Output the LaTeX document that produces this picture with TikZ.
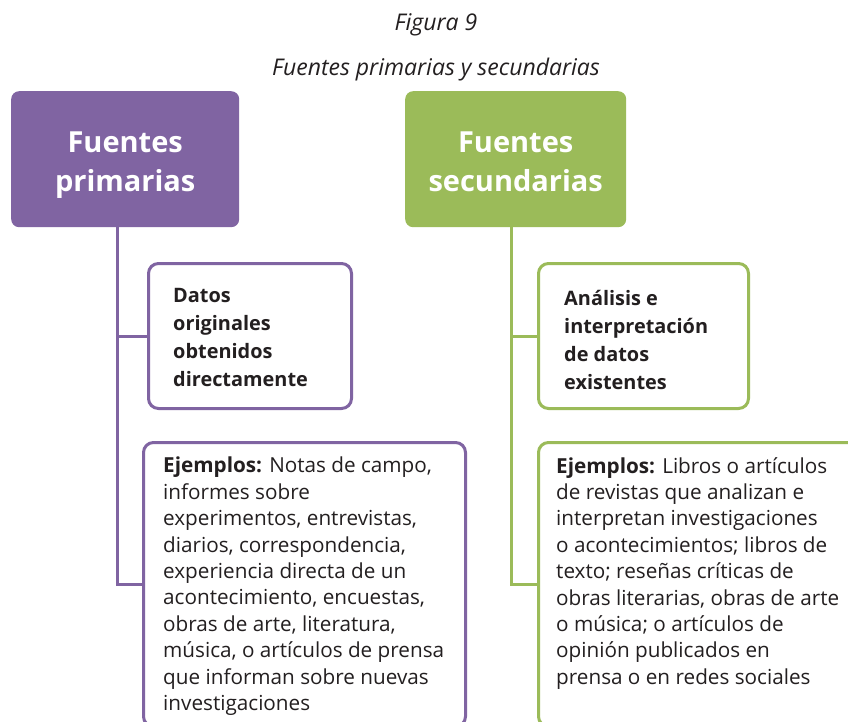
\documentclass[tikz,border=0pt]{standalone}
\usepackage{fontspec}
\setmainfont{Open Sans}
\usetikzlibrary{calc}
\definecolor{purp}{HTML}{8064A2}
\definecolor{grn}{HTML}{9BBB59}
\definecolor{ink}{HTML}{231F20}
\begin{document}
\begin{tikzpicture}[x=1pt,y=-1pt,
  head/.style={draw=none,fill=#1,rounded corners=8pt,anchor=north west,inner sep=0pt},
  obox/.style={draw=#1,line width=3pt,rounded corners=10pt,fill=white,anchor=north west,inner sep=0pt},
  link/.style={draw=#1,line width=3pt},
  headtxt/.style={text=white,align=center,font=\fontsize{29}{39}\selectfont\bfseries},
  btxt/.style={text=ink,align=left,anchor=north west,inner sep=0pt,font=\fontsize{19.9}{28}\selectfont\bfseries},
  ltxt/.style={text=ink,align=left,anchor=north west,inner sep=0pt,font=\fontsize{20.7}{26.4}\selectfont},
  ttl/.style={text=ink,font=\fontsize{23}{28}\selectfont\itshape}]
\useasboundingbox (0,0) rectangle (848,722);
\fill[white] (0,0) rectangle (848,722);
% titles
\node[ttl] (t1) at (436,25) {Figura 9};
\node[ttl] (t2) at (436,70) {Fuentes primarias y secundarias};
% header boxes
\node[head=purp,minimum width=228pt,minimum height=136pt] (P) at (11,91) {};
\node[headtxt] (Ptxt) at ($(P.center)+(0,6)$) {Fuentes\\primarias};
\node[head=grn,minimum width=221pt,minimum height=136pt] (S) at (405,91) {};
\node[headtxt] (Stxt) at ($(S.center)+(0,3)$) {Fuentes\\secundarias};
% outline boxes
\node[obox=purp,minimum width=203pt,minimum height=145pt] (PA) at (147,262) {};
\node[obox=purp,minimum width=322pt,minimum height=284pt] (PB) at (142,441) {};
\node[obox=grn,minimum width=210pt,minimum height=145pt] (SA) at (537,262) {};
\node[obox=grn,minimum width=330pt,minimum height=284pt] (SB) at (537,441) {};
% connectors
\coordinate (Pc) at ($(P.south west)+(106,0)$);
\coordinate (Sc) at ($(S.south west)+(106,0)$);
\draw[link=purp] (Pc) |- (PA.west);
\draw[link=purp] (Pc) |- (PB.west);
\draw[link=grn] (Sc) |- (SA.west);
\draw[link=grn] (Sc) |- (SB.west);
% texts
\node[btxt] (PAt) at (173,288) {Datos\\originales\\obtenidos\\directamente};
\node[btxt] (SAt) at (564,290) {Análisis e\\interpretación\\de datos\\existentes};
\node[ltxt] (PBt) at (163,457) {\textbf{Ejemplos:} Notas de campo,\\informes sobre\\experimentos, entrevistas,\\diarios, correspondencia,\\experiencia directa de un\\acontecimiento, encuestas,\\obras de arte, literatura,\\música, o artículos de prensa\\que informan sobre nuevas\\investigaciones};
\node[ltxt] (SBt) at (556,457) {\textbf{Ejemplos:} Libros o artículos\\de revistas que analizan e\\interpretan investigaciones\\o acontecimientos; libros de\\texto; reseñas críticas de\\obras literarias, obras de arte\\o música; o artículos de\\opinión publicados en\\prensa o en redes sociales};
\end{tikzpicture}
\end{document}
